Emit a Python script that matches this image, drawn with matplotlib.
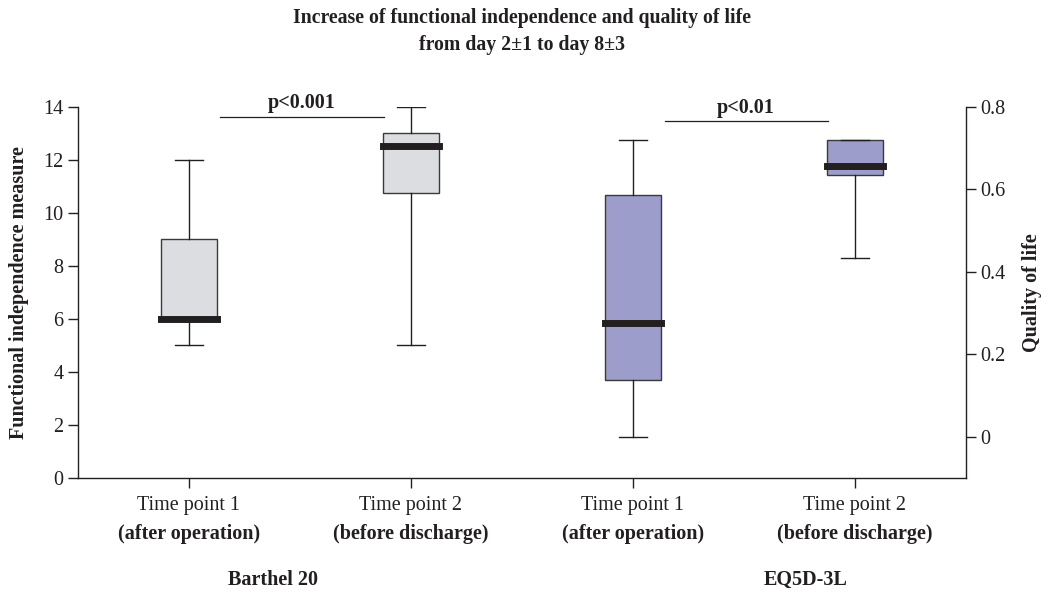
import matplotlib
matplotlib.use("Agg")
import matplotlib.pyplot as plt

plt.rcParams['font.family'] = ['Liberation Serif', 'DejaVu Serif']

# ---- data ----
positions_left = [1, 2]
positions_right = [3, 4]
barthel_whislo = [5, 5]
barthel_q1 = [6, 10.75]
barthel_med = [6, 12.5]
barthel_q3 = [9, 13]
barthel_whishi = [12, 14]

eq5d_whislo = [0.0, 0.433]
eq5d_q1 = [0.137, 0.635]
eq5d_med = [0.277, 0.656]
eq5d_q3 = [0.585, 0.72]
eq5d_whishi = [0.72, 0.72]

tick_labels = ["Time point 1", "Time point 2", "Time point 1", "Time point 2"]
tick_bold = ["(after operation)", "(before discharge)", "(after operation)", "(before discharge)"]
group_labels = ["Barthel 20", "EQ5D-3L"]
pvals = ["p<0.001", "p<0.01"]
title = "Increase of functional independence and quality of life\nfrom day 2±1 to day 8±3"

gray_fill = "#dcdde0"
purple_fill = "#9d9dcc"
dark = "#231f20"
FS = 14.5

fig = plt.figure(figsize=(10.48, 5.97), dpi=100)
ax = fig.add_axes([0.0744, 0.1993, 0.8471, 0.622])
ax2 = ax.twinx()

def stats(lo, q1, med, q3, hi):
    return [dict(whislo=a, q1=b, med=c, q3=d, whishi=e, fliers=[])
            for a, b, c, d, e in zip(lo, q1, med, q3, hi)]

common = dict(widths=0.25, patch_artist=True, showfliers=False,
              whiskerprops=dict(color=dark, linewidth=1.0),
              capprops=dict(color=dark, linewidth=1.0),
              medianprops=dict(color=dark, linewidth=5, solid_capstyle='projecting'),
              capwidths=0.125, manage_ticks=False)

ax.bxp(stats(barthel_whislo, barthel_q1, barthel_med, barthel_q3, barthel_whishi),
       positions=positions_left,
       boxprops=dict(facecolor=gray_fill, edgecolor="#3a3a3a", linewidth=1.0),
       **common)
ax2.bxp(stats(eq5d_whislo, eq5d_q1, eq5d_med, eq5d_q3, eq5d_whishi),
        positions=positions_right,
        boxprops=dict(facecolor=purple_fill, edgecolor="#3a3a3a", linewidth=1.0),
        **common)

ax.set_xlim(0.5, 4.5)
ax.set_ylim(0, 14)
ax2.set_ylim(-0.0996, 0.796)
ax.set_yticks(range(0, 15, 2))
ax2.set_yticks([0, 0.2, 0.4, 0.6, 0.8])
ax2.set_yticklabels(["0", "0.2", "0.4", "0.6", "0.8"])

for a in (ax, ax2):
    a.spines['top'].set_visible(False)
    for s in a.spines.values():
        s.set_linewidth(1.0)
        s.set_color(dark)
    a.tick_params(direction='out', length=7, width=1.0, colors=dark, labelsize=FS, labelcolor=dark)
ax2.spines['left'].set_visible(False)
ax2.spines['bottom'].set_visible(False)
ax.spines['right'].set_visible(False)
ax2.spines['right'].set_bounds(-0.0996, 0.8)

ax.set_xticks([1, 2, 3, 4])
ax.set_xticklabels(tick_labels, fontsize=FS, color=dark)
ax.tick_params(axis='x', pad=6)
for x, lab in zip([1, 2, 3, 4], tick_bold):
    ax.annotate(lab, xy=(x, 0), xycoords=('data', 'axes fraction'),
                xytext=(0, -40.5), textcoords='offset points',
                ha='center', va='center', fontsize=FS, fontweight='bold', color=dark)

ax.set_ylabel("Functional independence measure", fontsize=FS, fontweight='bold', color=dark, labelpad=10)
ax2.set_ylabel("Quality of life", fontsize=FS, fontweight='bold', color=dark, labelpad=12)

# significance bars
ax.plot([1.138, 1.881], [13.62, 13.62], color=dark, linewidth=0.9)
ax.text(1.51, 13.75, pvals[0], ha='center', va='bottom', fontsize=FS, fontweight='bold', color=dark)
ax2.plot([3.147, 3.88], [0.766, 0.766], color=dark, linewidth=0.9)
ax2.text(3.51, 0.772, pvals[1], ha='center', va='bottom', fontsize=FS, fontweight='bold', color=dark)

# group labels
fig.text(273 / 1048, 1 - 580 / 597, group_labels[0], ha='center', va='center',
         fontsize=FS, fontweight='bold', color=dark)
fig.text(806 / 1048, 1 - 580 / 597, group_labels[1], ha='center', va='center',
         fontsize=FS, fontweight='bold', color=dark)

fig.text(522 / 1048, 1 - 31.5 / 597, title, ha='center', va='center', fontsize=14.2,
         fontweight='bold', color=dark, linespacing=1.45)

fig.savefig("out.png", dpi=100)
